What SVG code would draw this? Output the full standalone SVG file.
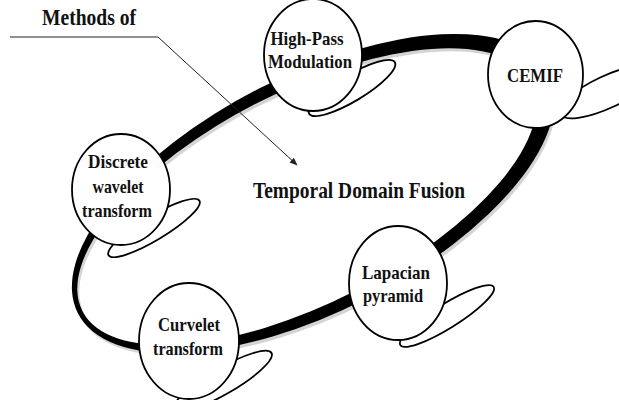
<svg xmlns="http://www.w3.org/2000/svg" width="619" height="400" viewBox="0 0 619 400">
  <defs>
    <style>
      .node { fill: #fff; stroke: #000; stroke-width: 1.8; }
      .loop { fill: #fff; stroke: #000; stroke-width: 1.8; }
      .lbl { font-family: "Liberation Serif", "Times New Roman", serif; font-weight: bold; font-size: 19px; fill: #111; text-anchor: middle; }
      .big { font-family: "Liberation Serif", "Times New Roman", serif; font-weight: bold; font-size: 23px; fill: #111; }
    </style>
    <path id="ringShape" fill-rule="evenodd" d="M -260.5 0 A 264 118 0 1 0 267.5 0 A 264 118 0 1 0 -260.5 0 Z M -255.5 0 A 252 106 0 1 0 248.5 0 A 252 106 0 1 0 -255.5 0 Z"/>
    <marker id="arrow" viewBox="0 0 10 10" refX="9" refY="5" markerWidth="8" markerHeight="8" orient="auto" markerUnits="userSpaceOnUse">
      <path d="M0,1 L10,5 L0,9 Z" fill="#222"/>
    </marker>
  </defs>
  <rect width="619" height="400" fill="#fff"/>

  <g id="ring">
    <use href="#ringShape" transform="translate(312,198) rotate(-27)" fill="#d4d4d4"/>
    <use href="#ringShape" transform="translate(310,195) rotate(-27)" fill="#000"/>
  </g>

  <g id="connectors">
    <polyline points="10,37 158,37 297,165" fill="none" stroke="#222" stroke-width="1" marker-end="url(#arrow)"/>
  </g>

  <text class="big" x="42" y="25" textLength="94" lengthAdjust="spacingAndGlyphs">Methods of</text>
  <text class="big" x="253" y="198" textLength="212" lengthAdjust="spacingAndGlyphs">Temporal Domain Fusion</text>

  <g id="node-highpass">
    <ellipse class="loop" cx="352" cy="88" rx="50" ry="13" transform="rotate(-31 352 88)"/>
    <ellipse class="node" cx="313" cy="55" rx="49" ry="56"/>
    <text class="lbl" x="307" y="45" textLength="73" lengthAdjust="spacingAndGlyphs">High-Pass</text>
    <text class="lbl" x="310" y="68" textLength="84" lengthAdjust="spacingAndGlyphs">Modulation</text>
  </g>

  <g id="node-cemif">
    <ellipse class="loop" cx="607" cy="92" rx="52" ry="16" transform="rotate(-25 607 92)"/>
    <ellipse class="node" cx="535.5" cy="74.5" rx="47.5" ry="53.5"/>
    <text class="lbl" x="535" y="82" textLength="56" lengthAdjust="spacingAndGlyphs">CEMIF</text>
  </g>

  <g id="node-dwt">
    <ellipse class="loop" cx="154" cy="228" rx="53" ry="12" transform="rotate(-31 154 228)"/>
    <ellipse class="node" cx="121" cy="189.5" rx="49" ry="55.5"/>
    <text class="lbl" x="118" y="168" textLength="60" lengthAdjust="spacingAndGlyphs">Discrete</text>
    <text class="lbl" x="118" y="193" textLength="51" lengthAdjust="spacingAndGlyphs">wavelet</text>
    <text class="lbl" x="117" y="217" textLength="70" lengthAdjust="spacingAndGlyphs">transform</text>
  </g>

  <g id="node-lapacian">
    <ellipse class="loop" cx="447" cy="316" rx="55" ry="12" transform="rotate(-32 447 316)"/>
    <ellipse class="node" cx="398" cy="283" rx="49" ry="57"/>
    <text class="lbl" x="396" y="279" textLength="68" lengthAdjust="spacingAndGlyphs">Lapacian</text>
    <text class="lbl" x="393" y="302" textLength="60" lengthAdjust="spacingAndGlyphs">pyramid</text>
  </g>

  <g id="node-curvelet">
    <ellipse class="loop" cx="223" cy="381" rx="56" ry="13" transform="rotate(-30 223 381)"/>
    <ellipse class="node" cx="189" cy="341" rx="50" ry="58"/>
    <text class="lbl" x="189" y="331" textLength="62" lengthAdjust="spacingAndGlyphs">Curvelet</text>
    <text class="lbl" x="188" y="355" textLength="70" lengthAdjust="spacingAndGlyphs">transform</text>
  </g>
</svg>
